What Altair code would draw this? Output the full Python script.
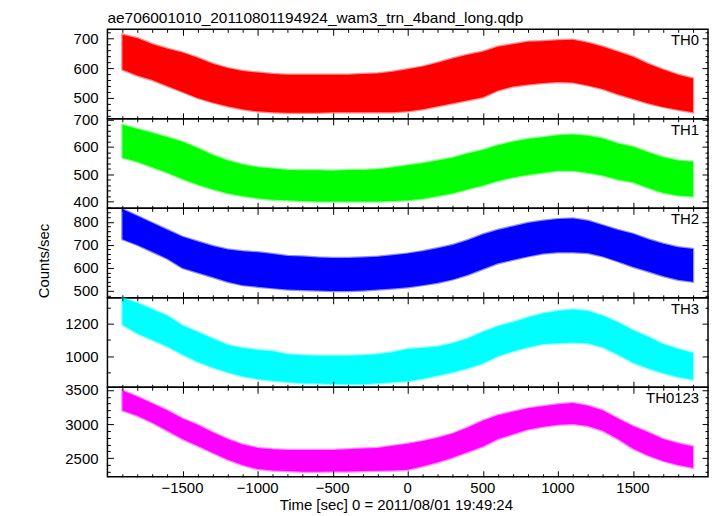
import altair as alt
import pandas as pd

FONT = "Liberation Sans"

TITLE = "ae706001010_20110801194924_wam3_trn_4band_long.qdp"
X_TITLE = "Time [sec] 0 = 2011/08/01 19:49:24"
Y_TITLE = "Counts/sec"

TIME = [-1900, -1800, -1700, -1600, -1500, -1400, -1300, -1200, -1100, -1000,
        -900, -800, -700, -600, -500, -400, -300, -200, -100, 0,
        100, 200, 300, 400, 500, 600, 700, 800, 900, 1000,
        1100, 1200, 1300, 1400, 1500, 1600, 1700, 1800, 1900]

TH0_HI = [712, 700, 680, 665, 652, 635, 615, 600, 590, 585,
          580, 578, 578, 578, 578, 578, 580, 582, 588, 596,
          605, 618, 632, 645, 655, 672, 680, 688, 690, 693,
          695, 685, 672, 655, 638, 615, 595, 578, 565]
TH0_LO = [595, 575, 560, 540, 520, 500, 485, 472, 462, 455,
          452, 450, 450, 450, 452, 452, 452, 452, 452, 455,
          462, 472, 482, 492, 502, 525, 538, 545, 550, 553,
          552, 542, 530, 512, 497, 482, 470, 460, 452]

TH1_HI = [680, 665, 650, 635, 618, 595, 570, 550, 535, 525,
          520, 515, 514, 514, 512, 515, 515, 518, 524, 532,
          540, 550, 560, 575, 588, 605, 618, 628, 635, 642,
          645, 640, 630, 612, 600, 580, 562, 550, 545]
TH1_LO = [560, 545, 525, 505, 482, 462, 445, 430, 420, 412,
          406, 404, 402, 400, 400, 400, 400, 400, 402, 404,
          410, 420, 430, 445, 458, 475, 488, 498, 505, 512,
          512, 505, 495, 480, 470, 450, 432, 422, 418]

TH2_HI = [855, 825, 795, 765, 735, 715, 695, 680, 672, 668,
          660, 652, 650, 645, 643, 643, 645, 648, 655, 662,
          672, 685, 700, 720, 745, 765, 780, 795, 805, 812,
          815, 805, 785, 765, 748, 725, 705, 690, 682]
TH2_LO = [725, 700, 670, 640, 600, 580, 560, 540, 525, 518,
          512, 506, 504, 502, 500, 500, 502, 506, 510, 516,
          525, 535, 550, 570, 595, 620, 635, 650, 662, 668,
          668, 665, 650, 628, 605, 585, 565, 548, 540]

TH3_HI = [1360, 1330, 1290, 1250, 1190, 1150, 1110, 1070, 1050, 1038,
          1030, 1012, 1005, 1002, 1002, 1002, 1005, 1012, 1025, 1045,
          1050, 1060, 1080, 1110, 1150, 1185, 1210, 1240, 1265, 1280,
          1290, 1280, 1250, 1210, 1160, 1120, 1075, 1045, 1020]
TH3_LO = [1195, 1140, 1100, 1060, 1010, 965, 930, 900, 875, 858,
          848, 840, 832, 830, 828, 826, 826, 832, 838, 845,
          860, 880, 900, 925, 955, 1000, 1030, 1055, 1075, 1080,
          1085, 1080, 1055, 1010, 960, 925, 895, 870, 855]

TH0123_HI = [3490, 3400, 3300, 3200, 3080, 2990, 2880, 2780, 2700, 2650,
             2630, 2620, 2620, 2620, 2620, 2630, 2640, 2650, 2680, 2710,
             2750, 2800, 2860, 2950, 3050, 3130, 3180, 3230, 3260, 3290,
             3310, 3270, 3200, 3080, 2970, 2880, 2780, 2720, 2670]
TH0123_LO = [3200, 3120, 3020, 2900, 2780, 2680, 2580, 2480, 2400, 2340,
             2320, 2310, 2300, 2300, 2305, 2305, 2310, 2315, 2320, 2330,
             2380, 2440, 2510, 2590, 2670, 2780, 2850, 2920, 2960, 2990,
             3000, 2970, 2900, 2780, 2640, 2540, 2460, 2400, 2360]

NAMES = ["TH0", "TH1", "TH2", "TH3", "TH0123"]
COLORS = ["#ff0000", "#00ff00", "#0000ff", "#00ffff", "#ff00ff"]
HIS = [TH0_HI, TH1_HI, TH2_HI, TH3_HI, TH0123_HI]
LOS = [TH0_LO, TH1_LO, TH2_LO, TH3_LO, TH0123_LO]
Y_DOMAINS = [[430, 730], [375, 702], [470, 859], [807, 1362], [2227, 3539]]
Y_MAJOR = [[500, 600, 700], [400, 500, 600, 700], [500, 600, 700, 800],
           [1000, 1200], [2500, 3000, 3500]]
Y_MINOR = [[440, 460, 480, 520, 540, 560, 580, 620, 640, 660, 680, 720],
           [380, 420, 440, 460, 480, 520, 540, 560, 580, 620, 640, 660, 680],
           [480, 520, 540, 560, 580, 620, 640, 660, 680, 720, 740, 760, 780, 820, 840],
           [900, 1100, 1300],
           [2300, 2400, 2600, 2700, 2800, 2900, 3100, 3200, 3300, 3400]]

X_DOMAIN = [-2000, 2000]
X_MAJOR = [-1500, -1000, -500, 0, 500, 1000, 1500]
X_LABELS = ["\u22121500", "\u22121000", "\u2212500", "0", "500", "1000", "1500"]
X_MINOR = [-1900, -1800, -1700, -1600, -1400, -1300, -1200, -1100, -900, -800,
           -700, -600, -400, -300, -200, -100, 100, 200, 300, 400, 600, 700,
           800, 900, 1100, 1200, 1300, 1400, 1600, 1700, 1800, 1900]

W, H = 604, 90
MAJ, MIN = 6, 3


def tick_axis(orient, values, tick, span, label_pad=None):
    # inward ticks on both sides of the frame, drawn as a dashed grid
    kw = dict(orient=orient, values=values, grid=True,
              gridDash=[tick, span - 2 * tick, tick, 0],
              gridColor="black", gridOpacity=1, gridWidth=1,
              ticks=False, tickSize=0, domain=False, title=None,
              minExtent=0, zindex=1)
    if label_pad is None:
        kw["labels"] = False
    else:
        kw.update(labels=True, labelPadding=label_pad, labelFont=FONT,
                  labelFontSize=15, labelColor="black", format="d",
                  labelFlush=False, labelOverlap=False)
    return alt.Axis(**kw)


def one_row():
    return pd.DataFrame({"a": [0]})


def text_layer(txt, x, y, size=15, align="left", angle=0):
    mk = alt.Chart(one_row()).mark_text(text=txt, font=FONT, fontSize=size,
                                        color="black", align=align,
                                        baseline="alphabetic", angle=angle)
    return mk.encode(x=alt.value(x), y=alt.value(y))


panels = []
for i in range(5):
    df = pd.DataFrame({"t": TIME, "lo": LOS[i], "hi": HIS[i]})
    xs = alt.Scale(domain=X_DOMAIN, nice=False, zero=False)
    ys = alt.Scale(domain=Y_DOMAINS[i], nice=False, zero=False)
    last = i == 4

    band = alt.Chart(df).mark_area(
        color=COLORS[i], opacity=1, stroke=COLORS[i], strokeWidth=2.5,
        strokeOpacity=0.45
    ).encode(
        x=alt.X("t:Q", scale=xs, axis=tick_axis("bottom", X_MAJOR, MAJ, H)),
        y=alt.Y("lo:Q", scale=ys,
                axis=tick_axis("left", Y_MAJOR[i], MAJ, W, 9.5)),
        y2="hi:Q",
    )
    minor = alt.Chart(df).mark_area(opacity=0, strokeWidth=0).encode(
        x=alt.X("t:Q", scale=xs, axis=tick_axis("bottom", X_MINOR, MIN, H)),
        y=alt.Y("lo:Q", scale=ys, axis=tick_axis("left", Y_MINOR[i], MIN, W)),
        y2="hi:Q",
    )

    layers = [band, minor, text_layer(NAMES[i], W - 9, 16, align="right")]
    if i == 0:
        layers.append(text_layer(TITLE, 0, -6, size=15.5))
        anchor = alt.Chart(one_row()).mark_rule(opacity=0, strokeWidth=0).encode(
            x=alt.value(-99), x2=alt.value(-99), y=alt.value(-19), y2=alt.value(-19))
        layers.append(anchor)
    if i == 2:
        layers.append(text_layer(Y_TITLE, -59, 53, align="center", angle=270))
    if last:
        xlab = alt.Chart(pd.DataFrame({"v": X_MAJOR, "s": X_LABELS})).mark_text(
            font=FONT, fontSize=15, color="black", align="center",
            baseline="alphabetic"
        ).encode(
            x=alt.X("v:Q", scale=xs, axis=None),
            y=alt.value(H + 16.5),
            text="s:N",
        )
        layers.append(xlab)
        layers.append(text_layer(X_TITLE, 290.5, 123, align="center"))

    p = alt.layer(*layers).resolve_axis(x="independent", y="independent")
    panels.append(p.properties(width=W, height=H))

chart = alt.vconcat(*panels, spacing=0, bounds="flush").properties(
    padding={"left": 0, "top": 0, "right": 0, "bottom": 0}
).configure_view(stroke="black", strokeWidth=1.5)

chart.save("out.html", embed_options={"renderer": "svg", "actions": False})
